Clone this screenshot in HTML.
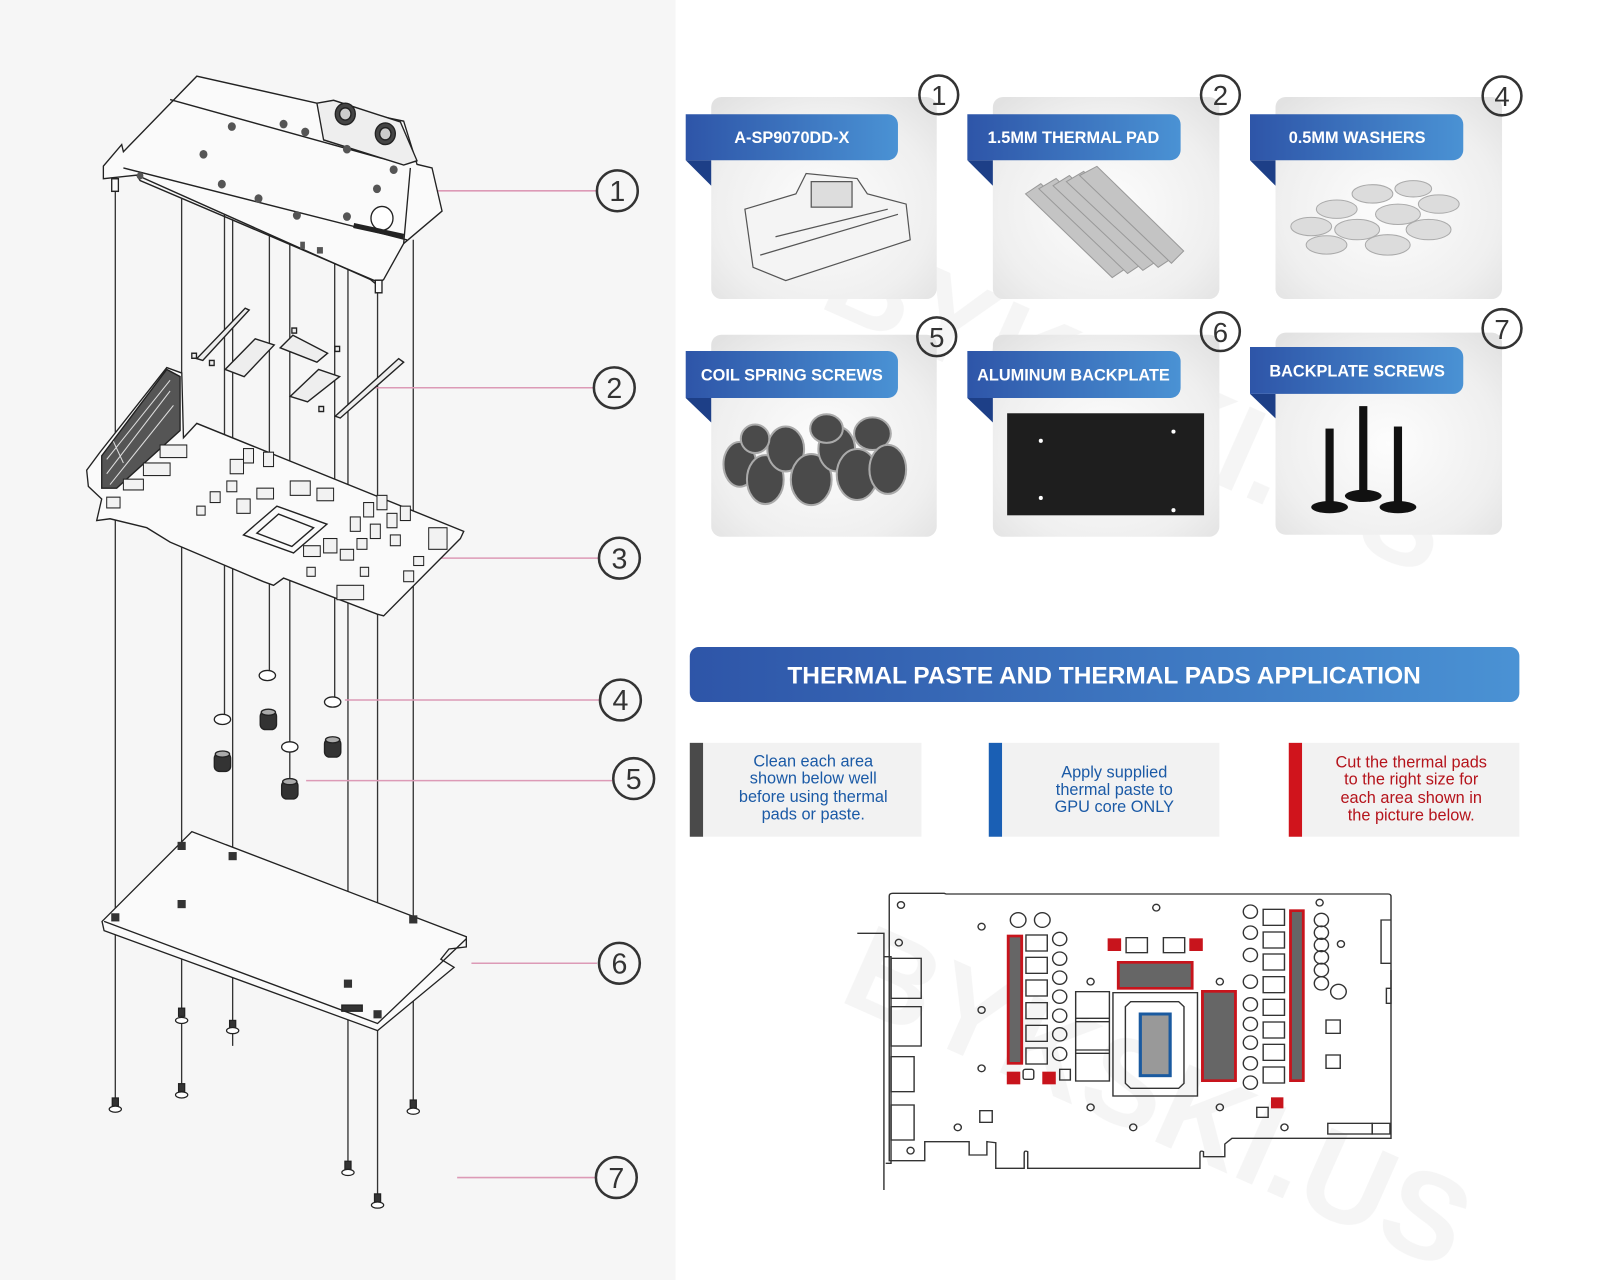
<!DOCTYPE html>
<html><head><meta charset="utf-8"><style>
html,body{margin:0;padding:0;background:#fff}
svg{display:block}
text{font-family:"Liberation Sans",sans-serif}
</style></head><body>
<svg width="1600" height="1280" viewBox="0 0 1568 1254.4" xmlns="http://www.w3.org/2000/svg">
<defs>
<linearGradient id="bn" x1="0" x2="1" y1="0" y2="0"><stop offset="0" stop-color="#2e55a8"/><stop offset="1" stop-color="#4a92d4"/></linearGradient>
<radialGradient id="cd" cx="0.5" cy="0.55" r="0.7"><stop offset="0" stop-color="#fdfdfd"/><stop offset="0.7" stop-color="#efefef"/><stop offset="1" stop-color="#e2e2e2"/></radialGradient>
</defs>
<rect x="0" y="0" width="1568" height="1255" fill="#fff"/>
<rect x="0" y="0" width="662" height="1255" fill="#f6f6f6"/>

<g fill="#000" opacity="0.04" font-weight="bold" font-size="120">
<text x="800" y="300" transform="rotate(24 800 300)">BYKSKI.US</text>
<text x="820" y="980" transform="rotate(24 820 980)">BYKSKI.US</text>
</g>

<!-- LEFT DIAGRAM -->
<g stroke="#333" stroke-width="1.3" fill="none">
<line x1="113" y1="185" x2="113" y2="1085"/>
<line x1="178" y1="195" x2="178" y2="1070"/>
<line x1="220" y1="210" x2="220" y2="700"/>
<line x1="228" y1="215" x2="228" y2="1025"/>
<line x1="264" y1="225" x2="264" y2="660"/>
<line x1="284" y1="235" x2="284" y2="770"/>
<line x1="328" y1="245" x2="328" y2="685"/>
<line x1="341" y1="250" x2="341" y2="1145"/>
<line x1="370" y1="275" x2="370" y2="1178"/>
<line x1="405" y1="235" x2="405" y2="1088"/>
</g>
<g stroke="#dc9ab6" stroke-width="1.5">
<line x1="425" y1="187" x2="585" y2="187"/>
<line x1="365" y1="380" x2="582" y2="380"/>
<line x1="420" y1="547" x2="586" y2="547"/>
<line x1="338" y1="686" x2="588" y2="686"/>
<line x1="300" y1="765" x2="600" y2="765"/>
<line x1="462" y1="944" x2="585" y2="944"/>
<line x1="448" y1="1154" x2="584" y2="1154"/>
</g>
<g transform="translate(68.6,58.8) scale(0.327,0.3526)" stroke="#222" stroke-width="4" fill="#fafafa">
<path d="M100,295 L155,235 L160,255 L380,45 L740,120 L1000,170 L1040,290 L1085,300 L1115,420 L1000,510 L940,610 L920,625 L900,610 L200,320 L100,330 Z"/>
<path d="M300,110 L1000,290 M160,300 L1010,500 M200,320 L210,335 L930,620 M1000,510 L1020,300" fill="none"/>
<path d="M740,120 L790,112 L990,172 L1040,280 L1000,292 L760,222 Z" fill="#eee"/>
<circle cx="825" cy="150" r="30" fill="#444"/><circle cx="825" cy="150" r="17" fill="#ccc"/>
<circle cx="945" cy="205" r="30" fill="#444"/><circle cx="945" cy="205" r="17" fill="#ccc"/>
<circle cx="935" cy="440" r="33" fill="#fff"/>
<path d="M850,460 L1000,490" stroke="#222" stroke-width="14"/>
<g fill="#555" stroke="none">
<circle cx="485" cy="185" r="12"/><circle cx="640" cy="178" r="12"/><circle cx="705" cy="200" r="12"/><circle cx="400" cy="262" r="12"/><circle cx="455" cy="345" r="12"/><circle cx="565" cy="385" r="12"/><circle cx="680" cy="432" r="12"/><circle cx="830" cy="435" r="12"/><circle cx="920" cy="358" r="12"/><circle cx="970" cy="305" r="12"/><circle cx="830" cy="248" r="12"/><circle cx="210" cy="322" r="10"/>
<rect x="690" y="505" width="14" height="20"/><rect x="740" y="520" width="18" height="18"/>
</g>
<rect x="125" y="330" width="20" height="35"/><rect x="915" y="612" width="20" height="35"/>
<g fill="#eee">
<path d="M380,830 L525,690 L537,695 L398,835 Z"/>
<path d="M465,860 L555,775 L612,792 L522,880 Z"/>
<path d="M630,800 L668,765 L772,815 L740,840 Z"/>
<path d="M660,935 L745,860 L808,880 L712,950 Z"/>
<path d="M795,990 L985,830 L1000,840 L810,995 Z"/>
<rect x="365" y="815" width="14" height="14"/><rect x="418" y="835" width="14" height="14"/><rect x="665" y="745" width="14" height="14"/><rect x="794" y="796" width="14" height="14"/><rect x="746" y="963" width="14" height="14"/>
</g>
<path d="M80,1280 L95,1220 L55,1185 L50,1140 L90,1090 L290,855 L335,870 L340,1050 L380,1010 L1180,1310 L1170,1330 L940,1545 L920,1540 L640,1440 L610,1460 L580,1450 L300,1340 L230,1300 L120,1275 Z"/>
<path d="M95,1100 L290,860 L330,880 L330,1030 L140,1190 L95,1190 Z" fill="#555"/>
<path d="M110,1150 L300,920 M110,1110 L300,890 M120,1180 L310,960 M130,1060 L160,1120" stroke="#ddd" stroke-width="3" fill="none"/>
<path d="M520,1320 L620,1240 L770,1290 L670,1370 Z"/>
<path d="M560,1315 L625,1262 L730,1300 L665,1352 Z"/>
<g fill="#f2f2f2" stroke-width="3">
<rect x="270" y="1070" width="80" height="35"/><rect x="220" y="1120" width="80" height="35"/><rect x="160" y="1165" width="60" height="30"/><rect x="110" y="1215" width="40" height="30"/>
<rect x="480" y="1110" width="40" height="40"/><rect x="520" y="1080" width="30" height="40"/><rect x="580" y="1090" width="30" height="40"/><rect x="470" y="1170" width="30" height="30"/><rect x="420" y="1200" width="30" height="30"/><rect x="380" y="1240" width="25" height="25"/><rect x="500" y="1220" width="40" height="40"/><rect x="560" y="1190" width="50" height="30"/><rect x="660" y="1170" width="60" height="40"/><rect x="740" y="1190" width="50" height="35"/><rect x="700" y="1350" width="50" height="30"/><rect x="760" y="1330" width="40" height="40"/><rect x="810" y="1360" width="40" height="30"/>
<rect x="880" y="1230" width="30" height="40"/><rect x="920" y="1210" width="30" height="40"/><rect x="840" y="1270" width="30" height="40"/><rect x="950" y="1260" width="30" height="40"/><rect x="900" y="1290" width="30" height="40"/><rect x="860" y="1330" width="30" height="30"/><rect x="990" y="1240" width="30" height="40"/><rect x="960" y="1320" width="30" height="30"/>
<rect x="1075" y="1300" width="55" height="60"/><rect x="800" y="1460" width="80" height="40"/><rect x="1000" y="1420" width="30" height="30"/><rect x="1030" y="1380" width="30" height="25"/><rect x="710" y="1410" width="25" height="25"/><rect x="870" y="1410" width="25" height="25"/>
</g>
</g>
<g stroke="#222" stroke-width="1.3">
<ellipse cx="262" cy="662" rx="8" ry="5" fill="#fff"/><ellipse cx="218" cy="705" rx="8" ry="5" fill="#fff"/><ellipse cx="326" cy="688" rx="8" ry="5" fill="#fff"/><ellipse cx="284" cy="732" rx="8" ry="5" fill="#fff"/>
<g fill="#333"><rect x="255" y="697" width="16" height="18" rx="5"/><rect x="210" y="738" width="16" height="18" rx="5"/><rect x="318" y="724" width="16" height="18" rx="5"/><rect x="276" y="765" width="16" height="18" rx="5"/></g>
<g fill="#aaa"><ellipse cx="263" cy="698" rx="7" ry="3"/><ellipse cx="218" cy="739" rx="7" ry="3"/><ellipse cx="326" cy="725" rx="7" ry="3"/><ellipse cx="284" cy="766" rx="7" ry="3"/></g>
</g>
<g stroke="#222" stroke-width="1.3" fill="#fafafa">
<path d="M100,903 L188,815 L457,918 L457,928 L440,930 L432,940 L445,948 L370,1010 L102,912 Z"/>
<path d="M102,903 L370,1003 L457,920" fill="none"/>
<rect x="335" y="985" width="20" height="6" fill="#333"/>
</g>
<g fill="#333"><rect x="174" y="825" width="8" height="8"/><rect x="224" y="835" width="8" height="8"/><rect x="174" y="882" width="8" height="8"/><rect x="109" y="895" width="8" height="8"/><rect x="401" y="897" width="8" height="8"/><rect x="337" y="960" width="8" height="8"/><rect x="366" y="990" width="8" height="8"/></g>
<g stroke="#222" stroke-width="1.2" fill="#fff">
<g><rect x="110" y="1076" width="6" height="8" fill="#333"/><ellipse cx="113" cy="1087" rx="6" ry="3"/></g>
<g><rect x="175" y="1062" width="6" height="8" fill="#333"/><ellipse cx="178" cy="1073" rx="6" ry="3"/></g>
<g><rect x="175" y="988" width="6" height="8" fill="#333"/><ellipse cx="178" cy="1000" rx="6" ry="3"/></g>
<g><rect x="225" y="1000" width="6" height="8" fill="#333"/><ellipse cx="228" cy="1010" rx="6" ry="3"/></g>
<g><rect x="402" y="1078" width="6" height="8" fill="#333"/><ellipse cx="405" cy="1089" rx="6" ry="3"/></g>
<g><rect x="338" y="1138" width="6" height="8" fill="#333"/><ellipse cx="341" cy="1149" rx="6" ry="3"/></g>
<g><rect x="367" y="1170" width="6" height="8" fill="#333"/><ellipse cx="370" cy="1181" rx="6" ry="3"/></g>
</g>
<g stroke="#333" stroke-width="2.5" fill="none">
<circle cx="605" cy="187" r="20"/><circle cx="602" cy="380" r="20"/><circle cx="607" cy="547" r="20"/><circle cx="608" cy="686" r="20"/><circle cx="621" cy="763" r="20"/><circle cx="607" cy="944" r="20"/><circle cx="604" cy="1154" r="20"/>
</g>
<g font-size="28" fill="#333" text-anchor="middle">
<text x="605" y="197">1</text><text x="602" y="390">2</text><text x="607" y="557">3</text><text x="608" y="696">4</text><text x="621" y="773">5</text><text x="607" y="954">6</text><text x="604" y="1164">7</text>
</g>

<!-- CARDS -->
<g fill="url(#cd)">
<rect x="697" y="95" width="221" height="198" rx="10"/><rect x="973" y="95" width="222" height="198" rx="10"/><rect x="1250" y="95" width="222" height="198" rx="10"/>
<rect x="697" y="328" width="221" height="198" rx="10"/><rect x="973" y="328" width="222" height="198" rx="10"/><rect x="1250" y="326" width="222" height="198" rx="10"/>
</g>
<g fill="#1d3f87">
<path d="M672,157 L697,157 L697,182 Z"/><path d="M948,157 L973,157 L973,182 Z"/><path d="M1225,157 L1250,157 L1250,182 Z"/>
<path d="M672,390 L697,390 L697,414 Z"/><path d="M948,390 L973,390 L973,414 Z"/><path d="M1225,386 L1250,386 L1250,410 Z"/>
</g>
<g fill="url(#bn)">
<path d="M672,112 H870 a10,10 0 0 1 10,10 V147 a10,10 0 0 1 -10,10 H672 Z"/>
<path d="M948,112 H1147 a10,10 0 0 1 10,10 V147 a10,10 0 0 1 -10,10 H948 Z"/>
<path d="M1225,112 H1424 a10,10 0 0 1 10,10 V147 a10,10 0 0 1 -10,10 H1225 Z"/>
<path d="M672,344 H870 a10,10 0 0 1 10,10 V380 a10,10 0 0 1 -10,10 H672 Z"/>
<path d="M948,344 H1147 a10,10 0 0 1 10,10 V380 a10,10 0 0 1 -10,10 H948 Z"/>
<path d="M1225,340 H1424 a10,10 0 0 1 10,10 V376 a10,10 0 0 1 -10,10 H1225 Z"/>
</g>
<g fill="#fff" font-size="16" font-weight="bold" text-anchor="middle">
<text x="776" y="140">A-SP9070DD-X</text><text x="1052" y="140">1.5MM THERMAL PAD</text><text x="1330" y="140">0.5MM WASHERS</text>
<text x="776" y="373">COIL SPRING SCREWS</text><text x="1052" y="373">ALUMINUM BACKPLATE</text><text x="1330" y="369">BACKPLATE SCREWS</text>
</g>
<g stroke="#333" stroke-width="2.5" fill="none">
<circle cx="920" cy="93" r="19"/><circle cx="1196" cy="93" r="19"/><circle cx="1472" cy="94" r="19"/>
<circle cx="918" cy="330" r="19"/><circle cx="1196" cy="325" r="19"/><circle cx="1472" cy="322" r="19"/>
</g>
<g font-size="27" fill="#333" text-anchor="middle">
<text x="920" y="103">1</text><text x="1196" y="103">2</text><text x="1472" y="104">4</text><text x="918" y="340">5</text><text x="1196" y="335">6</text><text x="1472" y="332">7</text>
</g>
<g stroke="#555" stroke-width="1.2" fill="#f4f4f4">
<path d="M730,205 L780,190 L790,170 L840,175 L850,190 L888,200 L892,235 L770,275 L738,262 Z"/>
<path d="M745,250 L880,210 M760,232 L870,205" fill="none"/>
<rect x="795" y="178" width="40" height="25" fill="#ddd"/>
</g>
<g fill="#c4c4c4" stroke="#999">
<path d="M1005,190 L1020,180 L1105,262 L1090,272 Z"/><path d="M1018,185 L1035,175 L1120,258 L1105,268 Z"/><path d="M1032,182 L1048,172 L1135,255 L1120,265 Z"/><path d="M1045,178 L1062,168 L1150,252 L1135,262 Z"/><path d="M1058,172 L1075,163 L1160,246 L1148,258 Z"/>
</g>
<g fill="#dcdcdc" stroke="#aaa">
<ellipse cx="1285" cy="222" rx="20" ry="9"/><ellipse cx="1310" cy="205" rx="20" ry="9"/><ellipse cx="1345" cy="190" rx="20" ry="9"/><ellipse cx="1330" cy="225" rx="22" ry="10"/><ellipse cx="1370" cy="210" rx="22" ry="10"/><ellipse cx="1400" cy="225" rx="22" ry="10"/><ellipse cx="1360" cy="240" rx="22" ry="10"/><ellipse cx="1300" cy="240" rx="20" ry="9"/><ellipse cx="1410" cy="200" rx="20" ry="9"/><ellipse cx="1385" cy="185" rx="18" ry="8"/>
</g>
<g fill="#4a4a4a" stroke="#aaa" stroke-width="2">
<ellipse cx="725" cy="455" rx="16" ry="22"/><ellipse cx="750" cy="470" rx="18" ry="24"/><ellipse cx="770" cy="440" rx="18" ry="22"/><ellipse cx="795" cy="470" rx="20" ry="25"/><ellipse cx="820" cy="440" rx="18" ry="22"/><ellipse cx="840" cy="465" rx="20" ry="25"/><ellipse cx="855" cy="425" rx="18" ry="16"/><ellipse cx="870" cy="460" rx="18" ry="24"/><ellipse cx="810" cy="420" rx="16" ry="14"/><ellipse cx="740" cy="430" rx="14" ry="14"/>
</g>
<rect x="987" y="405" width="193" height="100" fill="#1e1e1e"/>
<g fill="#fff"><circle cx="1020" cy="432" r="2"/><circle cx="1150" cy="423" r="2"/><circle cx="1020" cy="488" r="2"/><circle cx="1150" cy="500" r="2"/></g>
<g fill="#111">
<rect x="1299" y="420" width="8" height="75"/><rect x="1332" y="398" width="8" height="85"/><rect x="1366" y="418" width="8" height="77"/>
<ellipse cx="1303" cy="497" rx="18" ry="6"/><ellipse cx="1336" cy="486" rx="18" ry="6"/><ellipse cx="1370" cy="497" rx="18" ry="6"/>
</g>

<rect x="676" y="634" width="813" height="54" rx="9" fill="url(#bn)"/>
<text x="1082" y="670" fill="#fff" font-size="24" font-weight="bold" text-anchor="middle">THERMAL PASTE AND THERMAL PADS APPLICATION</text>

<rect x="676" y="728" width="227" height="92" fill="#f2f2f2"/><rect x="676" y="728" width="13" height="92" fill="#4a4a4a"/>
<rect x="969" y="728" width="226" height="92" fill="#f2f2f2"/><rect x="969" y="728" width="13" height="92" fill="#1a5fb4"/>
<rect x="1263" y="728" width="226" height="92" fill="#f2f2f2"/><rect x="1263" y="728" width="13" height="92" fill="#d0141c"/>
<g font-size="16" text-anchor="middle" fill="#1b5aa6">
<text x="797" y="751">Clean each area</text><text x="797" y="768">shown below well</text><text x="797" y="786">before using thermal</text><text x="797" y="803">pads or paste.</text>
<text x="1092" y="762">Apply supplied</text><text x="1092" y="779">thermal paste to</text><text x="1092" y="796">GPU core ONLY</text>
</g>
<g font-size="16" text-anchor="middle" fill="#b5141c">
<text x="1383" y="752">Cut the thermal pads</text><text x="1383" y="769">to the right size for</text><text x="1383" y="787">each area shown in</text><text x="1383" y="804">the picture below.</text>
</g>

<!-- PCB diagram -->
<g transform="translate(821,852.6) scale(0.348,0.32667)" stroke="#333" stroke-width="4" fill="none">
<path d="M145,78 Q145,70 155,70 H300 L305,72 H1550 Q1558,72 1558,80 V805 H1110 L1090,822 V860 H1030 V845 Q1020,840 1020,850 V895 H535 V845 Q525,840 525,850 V895 H445 V818 L420,815 V855 H370 V815 H245 V872 H145 Z"/>
<path d="M55,190 H130 V960 M130,200 V260 H150 V880 H135"/>
<rect x="150" y="265" width="85" height="120"/><rect x="150" y="410" width="85" height="118"/><rect x="150" y="560" width="65" height="105"/><rect x="150" y="705" width="65" height="105"/>
<path d="M1558,150 H1530 V280 H1558 M1558,300 V400 H1545 V355 H1558"/>
<g>
<circle cx="178" cy="105" r="10"/><circle cx="405" cy="170" r="10"/><circle cx="172" cy="218" r="10"/><circle cx="897" cy="113" r="10"/><circle cx="1357" cy="98" r="10"/><circle cx="1417" cy="222" r="10"/><circle cx="405" cy="420" r="10"/><circle cx="405" cy="595" r="10"/><circle cx="712" cy="335" r="10"/><circle cx="1076" cy="335" r="10"/><circle cx="712" cy="712" r="10"/><circle cx="1076" cy="712" r="10"/><circle cx="832" cy="772" r="10"/><circle cx="1258" cy="772" r="10"/><circle cx="338" cy="772" r="10"/><circle cx="205" cy="842" r="10"/>
<circle cx="508" cy="150" r="22"/><circle cx="576" cy="150" r="22"/>
<circle cx="625" cy="207" r="20"/><circle cx="625" cy="266" r="20"/><circle cx="625" cy="323" r="20"/><circle cx="625" cy="380" r="20"/><circle cx="625" cy="437" r="20"/><circle cx="625" cy="493" r="20"/><circle cx="625" cy="552" r="20"/>
<circle cx="1162" cy="125" r="20"/><circle cx="1162" cy="188" r="20"/><circle cx="1162" cy="255" r="20"/><circle cx="1162" cy="335" r="20"/><circle cx="1162" cy="403" r="20"/><circle cx="1162" cy="462" r="20"/><circle cx="1162" cy="518" r="20"/><circle cx="1162" cy="580" r="20"/><circle cx="1162" cy="638" r="20"/>
<circle cx="1362" cy="150" r="20"/><circle cx="1362" cy="188" r="20"/><circle cx="1362" cy="225" r="20"/><circle cx="1362" cy="262" r="20"/><circle cx="1362" cy="300" r="20"/><circle cx="1362" cy="340" r="20"/><circle cx="1410" cy="365" r="22"/>
</g>
<g>
<rect x="530" y="195" width="60" height="48"/><rect x="530" y="262" width="60" height="48"/><rect x="530" y="330" width="60" height="48"/><rect x="530" y="398" width="60" height="48"/><rect x="530" y="466" width="60" height="48"/><rect x="530" y="534" width="60" height="48"/>
<rect x="1198" y="118" width="60" height="48"/><rect x="1198" y="186" width="60" height="48"/><rect x="1198" y="252" width="60" height="48"/><rect x="1198" y="320" width="60" height="48"/><rect x="1198" y="388" width="60" height="48"/><rect x="1198" y="456" width="60" height="48"/><rect x="1198" y="523" width="60" height="48"/><rect x="1198" y="591" width="60" height="48"/>
<rect x="670" y="365" width="95" height="268"/><path d="M670,445 H765 M670,455 H765 M670,540 H765 M670,550 H765"/>
<rect x="812" y="203" width="60" height="45"/><rect x="917" y="203" width="60" height="45"/>
<rect x="522" y="598" width="30" height="30" rx="6"/><rect x="625" y="598" width="30" height="32"/><rect x="400" y="722" width="35" height="35"/><rect x="1180" y="712" width="32" height="30"/><rect x="1375" y="450" width="40" height="40"/><rect x="1375" y="555" width="40" height="40"/>
<rect x="1380" y="760" width="125" height="32"/><rect x="1505" y="760" width="50" height="32"/>
<rect x="775" y="368" width="238" height="310"/>
<path d="M825,395 H960 L975,410 V640 L960,655 H825 L810,640 V410 Z"/>
</g>
<g stroke="#c8141c" stroke-width="8" fill="#666">
<rect x="480" y="198" width="38" height="382"/><rect x="790" y="277" width="208" height="78"/><rect x="1027" y="364" width="93" height="268"/><rect x="1275" y="122" width="36" height="510"/>
</g>
<g fill="#c8141c" stroke="none">
<rect x="476" y="605" width="38" height="38"/><rect x="576" y="605" width="38" height="38"/><rect x="760" y="205" width="38" height="38"/><rect x="990" y="205" width="38" height="38"/><rect x="1220" y="682" width="35" height="33"/>
</g>
<rect x="852" y="432" width="84" height="185" fill="#999" stroke="#1a5aa0" stroke-width="9"/>
</g>
</svg>
</body></html>
